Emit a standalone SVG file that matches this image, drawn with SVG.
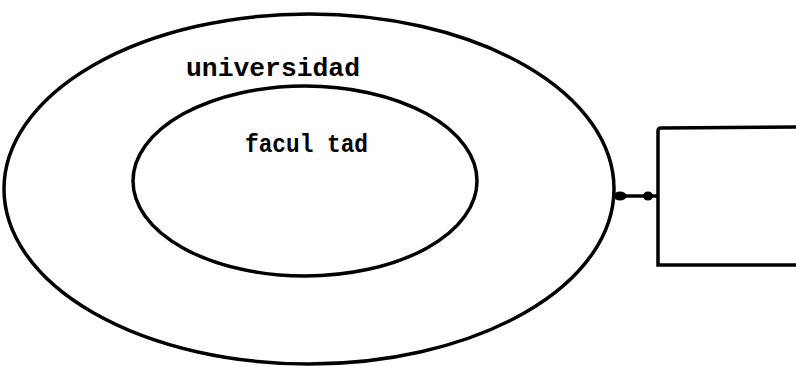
<svg xmlns="http://www.w3.org/2000/svg" width="796" height="366" viewBox="0 0 796 366">
<style>
.shape{fill:none;stroke:#000;stroke-width:3.5}
.lbl{font-family:"Liberation Mono","Courier New",monospace;font-size:25px;font-weight:bold;fill:#000}
.end{fill:#000}
</style>
<rect width="796" height="366" fill="#fff"/>
<g id="universidad">
<ellipse class="shape" cx="309" cy="189" rx="305" ry="175"/>
<text class="lbl" x="186" y="76" textLength="174" lengthAdjust="spacingAndGlyphs">universidad</text>
</g>
<g id="facultad">
<ellipse class="shape" cx="305" cy="181" rx="172" ry="95"/>
<text class="lbl" x="245" y="152" textLength="123" lengthAdjust="spacingAndGlyphs">facul tad</text>
</g>
<g id="box">
<path class="shape" d="M800 127 L661 128 Q658 128 658 131 L658 265 L800 265"/>
</g>
<g id="connectors">
<line x1="614" y1="196" x2="657" y2="196" stroke="#000" stroke-width="3.5"/>
<ellipse class="end" cx="620" cy="196" rx="6.5" ry="4.5"/>
<ellipse class="end" cx="648" cy="196" rx="5" ry="4.5"/>
</g>
</svg>
